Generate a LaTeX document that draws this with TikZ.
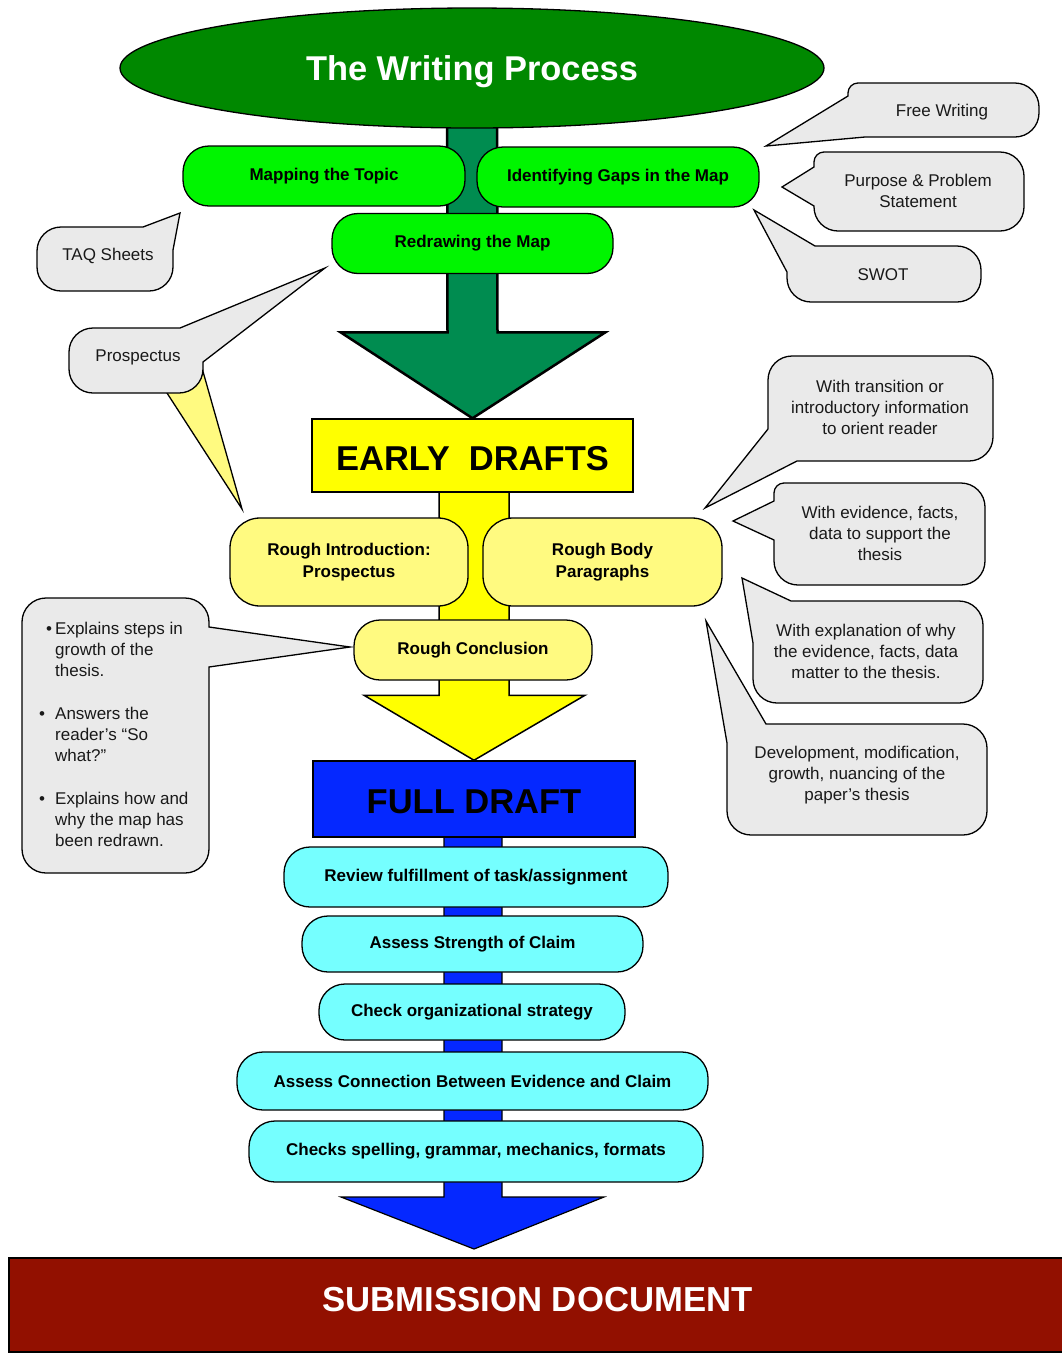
\documentclass[tikz,border=0pt]{standalone}
\usepackage{fontspec}
\setmainfont{Liberation Sans}
\usetikzlibrary{shapes.geometric,calc,backgrounds}

\definecolor{titlegreen}{RGB}{0,136,0}
\definecolor{arrowgreen}{RGB}{0,140,80}
\definecolor{mapgreen}{RGB}{0,245,0}
\definecolor{draftyellow}{RGB}{255,255,0}
\definecolor{paleyellow}{RGB}{255,250,128}
\definecolor{draftblue}{RGB}{5,40,255}
\definecolor{checkcyan}{RGB}{117,255,255}
\definecolor{notegrey}{RGB}{234,234,234}
\definecolor{subred}{RGB}{146,16,0}

\tikzset{
  stepbox/.style={draw=black, line width=1.3pt, rounded corners=26pt, minimum height=60pt,
    inner sep=0pt, align=center, font=\bfseries\fontsize{17}{22}\selectfont},
  mapbox/.style={stepbox, fill=mapgreen},
  roughbox/.style={stepbox, fill=paleyellow},
  checkbox/.style={stepbox, fill=checkcyan},
  stagebox/.style={draw=black, line width=1.5pt, inner sep=0pt, font=\bfseries\fontsize{34.5}{40}\selectfont},
  flow/.style={draw=black, line join=miter},
  note/.style={fill=notegrey, draw=black, line width=1.3pt, rounded corners=24pt},
  notetext/.style={align=center, inner sep=0pt, text=black!90, font=\fontsize{17}{21}\selectfont},
}

\begin{document}
\begin{tikzpicture}[x=1pt, y=-1pt]
  \useasboundingbox (0,0) rectangle (1062,1353);

  \node[ellipse, draw=black, line width=1.3pt, fill=titlegreen, minimum width=704pt, minimum height=120pt,
    inner sep=0pt, text depth=0pt, text=white, font=\bfseries\fontsize{34.4}{40}\selectfont] (title) at (472,68) {The Writing Process};

  \node[mapbox, minimum width=282pt] (topic) at (324,176) {Mapping the Topic};
  \node[mapbox, minimum width=282pt] (gaps) at (618,177) {Identifying Gaps in the Map};
  \node[mapbox, minimum width=281pt] (redraw) at (472.5,243.5) {Redrawing the Map};

  \node[stagebox, fill=draftyellow, minimum width=321pt, minimum height=73pt, text height=31pt] (early) at (472.5,455.5) {EARLY\ \ DRAFTS};

  \node[roughbox, minimum width=238pt, minimum height=88pt, rounded corners=30pt] (intro) at (349,562) {Rough Introduction:\\Prospectus};
  \node[roughbox, minimum width=239pt, minimum height=88pt, rounded corners=30pt] (bodypar) at (602.5,562) {Rough Body\\Paragraphs};
  \node[roughbox, minimum width=238pt] (concl) at (473,650) {Rough Conclusion};

  \node[stagebox, fill=draftblue, minimum width=322pt, minimum height=76pt, text height=30pt] (full) at (474,799) {FULL DRAFT};

  \node[checkbox, minimum width=384pt] (review) at (476,877) {Review fulfillment of task/assignment};
  \node[checkbox, minimum width=341pt, minimum height=56pt] (claim) at (472.5,944) {Assess Strength of Claim};
  \node[checkbox, minimum width=306pt, minimum height=56pt] (organize) at (472,1012) {Check organizational strategy};
  \node[checkbox, minimum width=471pt, minimum height=58pt] (evidence) at (472.5,1081) {Assess Connection Between Evidence and Claim};
  \node[checkbox, minimum width=454pt, minimum height=61pt] (mechanics) at (476,1151.5) {Checks spelling, grammar, mechanics, formats};

  \node[draw=black, line width=2pt, fill=subred, minimum width=1057pt, minimum height=94pt, inner sep=0pt, text depth=12pt,
    text=white, font=\bfseries\fontsize{34.7}{40}\selectfont] (submit) at (537.5,1305) {SUBMISSION DOCUMENT};

  \begin{scope}[on background layer]
    \path[flow, fill=arrowgreen, line width=2.5pt] ($(title.center)+(-25,0)$) -- ($(early.north)+(-25,-86)$)
      -- ($(early.north)+(-132,-86)$) -- (early.north) -- ($(early.north)+(133,-86)$)
      -- ($(early.north)+(25,-86)$) -- ($(title.center)+(25,0)$) -- cycle;
    \coordinate (ytop) at (early.center -| full.north);
    \path[flow, fill=draftyellow, line width=1.5pt] ($(ytop)+(-35,0)$) -- ($(full.north)+(-35,-65)$)
      -- ($(full.north)+(-110,-65)$) -- (full.north) -- ($(full.north)+(111,-65)$)
      -- ($(full.north)+(35,-65)$) -- ($(ytop)+(35,0)$) -- cycle;
    \coordinate (btip) at ($(full.center |- submit.north)+(0,-8)$);
    \path[flow, fill=draftblue, line width=1.2pt] ($(full.center)+(-30,0)$) -- ($(btip)+(-30,-52)$)
      -- ($(btip)+(-133,-52)$) -- (btip) -- ($(btip)+(130,-52)$)
      -- ($(btip)+(28,-52)$) -- ($(full.center)+(28,0)$) -- cycle;
  \end{scope}

  \path[fill=paleyellow, draw=black, line width=1.3pt] (167,393) -- (242,509) -- (202,368) -- cycle;

  \path[note] (865,137) -- (1039,137) -- (1039,83) -- (900,83) [rounded corners=10pt] -- (848,83) [sharp corners] -- (848,96) -- (766,146) -- cycle;
  \path[note] (814,206) -- (814,231) -- (1024,231) -- (1024,152) -- (860,152) [rounded corners=10pt] -- (814,152) [sharp corners] -- (814,167) -- (782,187) -- cycle;
  \path[note] (815,246) -- (981,246) -- (981,302) -- (787,302) [sharp corners] -- (787,272) -- (754,210) -- cycle;
  \path[note] (173,250) -- (173,291) -- (37,291) -- (37,227) [sharp corners] -- (143,227) -- (180,213) -- cycle;
  \path[note] (203,362) -- (203,393) -- (69,393) -- (69,328) [sharp corners] -- (180,328) -- (325,268) -- cycle;
  \path[note] (797,461) -- (993,461) -- (993,356) -- (768,356) [sharp corners] -- (768,429) -- (705,508) -- cycle;
  \path[note] (774,540) -- (774,585) -- (985,585) -- (985,483) -- (820,483) [rounded corners=10pt] -- (774,483) [sharp corners] -- (774,501) -- (733,521) -- cycle;
  \path[note] (791,601) -- (983,601) -- (983,703) -- (753,703) [sharp corners] -- (753,643) -- (742,578) -- cycle;
  \path[note] (766,724) -- (987,724) -- (987,835) -- (727,835) [sharp corners] -- (727,743) -- (706,621) -- cycle;
  \path[note] (209,667) -- (209,873) -- (22,873) -- (22,598) -- (209,598) [sharp corners] -- (209,627) -- (350,647) -- cycle;

  \node[notetext] (freew) at (942,112) {Free Writing};
  \node[notetext] (purpose) at (918,191) {Purpose \& Problem\\Statement};
  \node[notetext] (swot) at (883,275) {SWOT};
  \node[notetext] (taq) at (108,256) {TAQ Sheets};
  \node[notetext] (prosp) at (138,357) {Prospectus};
  \node[notetext] (orient) at (880,407) {With transition or\\introductory information\\to orient reader};
  \node[notetext] (support) at (880,533) {With evidence, facts,\\data to support the\\thesis};
  \node[notetext] (matter) at (866,651) {With explanation of why\\the evidence, facts, data\\matter to the thesis.};
  \node[notetext] (develop) at (857,775) {Development, modification,\\growth, nuancing of the\\paper’s thesis};
  \node[notetext, align=left, anchor=west] (growth) at (55,734) {\llap{•\hspace{3pt}}Explains steps in\\growth of the\\thesis.\\[22pt]
    \llap{•\hspace{10pt}}Answers the\\reader’s “So\\what?”\\[22pt]
    \llap{•\hspace{10pt}}Explains how and\\why the map has\\been redrawn.};
\end{tikzpicture}
\end{document}
